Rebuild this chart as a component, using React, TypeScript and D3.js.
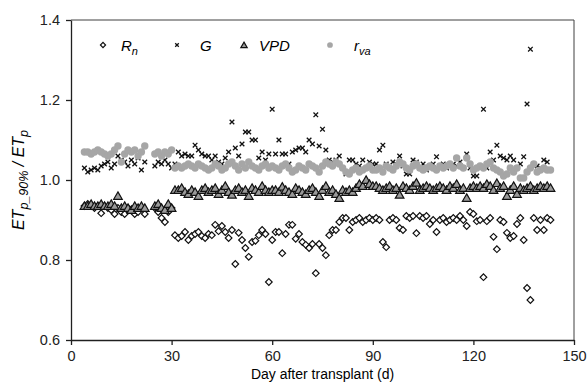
import { useEffect, useRef } from 'react';
import * as d3 from 'd3';

// day after transplant (gap on days 23-24)
const days: number[] = [
  ...d3.range(4, 23),
  ...d3.range(25, 144),
];

const rnValues: number[] = [
  // 4-22
  0.935, 0.94, 0.935, 0.93, 0.935, 0.917, 0.935, 0.93, 0.925, 0.915, 0.93, 0.92, 0.915, 0.93, 0.925, 0.915, 0.92, 0.93, 0.915,
  // 25-30
  0.93, 0.92, 0.905, 0.895, 0.92, 0.93,
  // 31-60
  0.862, 0.855, 0.86, 0.87, 0.85, 0.86, 0.865, 0.87, 0.86, 0.855, 0.865, 0.862, 0.888, 0.872, 0.885, 0.87, 0.855, 0.875, 0.79, 0.868,
  0.85, 0.83, 0.808, 0.845, 0.848, 0.862, 0.875, 0.865, 0.745, 0.85,
  // 61-90
  0.87, 0.87, 0.817, 0.865, 0.888, 0.888, 0.853, 0.865, 0.845, 0.838, 0.83, 0.84, 0.767, 0.84, 0.83, 0.812, 0.862, 0.875, 0.875, 0.895,
  0.905, 0.905, 0.875, 0.895, 0.9, 0.905, 0.895, 0.9, 0.905, 0.9,
  // 91-120
  0.905, 0.9, 0.845, 0.832, 0.9, 0.905, 0.9, 0.88, 0.875, 0.91, 0.905, 0.91, 0.867, 0.91, 0.905, 0.91, 0.89, 0.9, 0.87, 0.9,
  0.905, 0.895, 0.9, 0.905, 0.9, 0.91, 0.9, 0.885, 0.92, 0.915,
  // 121-143
  0.897, 0.9, 0.757, 0.897, 0.905, 0.858, 0.827, 0.9, 0.895, 0.868, 0.855, 0.86, 0.89, 0.905, 0.85, 0.73, 0.7, 0.905, 0.875, 0.9,
  0.875, 0.905, 0.9,
];

const gValues: number[] = [
  1.03, 1.02, 1.025, 1.03, 1.025, 1.035, 1.04, 1.045, 1.03, 1.04, 1.06, 1.05, 1.045, 1.035, 1.05, 1.04, 1.055, 1.025, 1.045,
  1.035, 1.045, 1.04, 1.05, 1.04, 1.03,
  1.04, 1.07, 1.06, 1.065, 1.06, 1.06, 1.087, 1.075, 1.065, 1.06, 1.06, 1.05, 1.06, 1.045, 1.04, 1.055, 1.07, 1.145, 1.08, 1.06,
  1.09, 1.12, 1.12, 1.1, 1.1, 1.055, 1.07, 1.05, 1.065, 1.177,
  1.065, 1.1, 1.065, 1.065, 1.04, 1.07, 1.075, 1.08, 1.08, 1.07, 1.1, 1.09, 1.163, 1.085, 1.127, 1.075, 1.05, 1.045, 1.05, 1.06,
  1.03, 1.015, 1.05, 1.05, 1.04, 1.035, 1.05, 1.03, 1.045, 1.04,
  1.04, 1.075, 1.087, 1.04, 1.03, 1.045, 1.04, 1.06, 1.035, 1.015, 1.015, 1.05, 1.045, 1.03, 1.04, 1.025, 1.035, 1.04, 1.058, 1.035,
  1.04, 1.03, 1.035, 1.04, 1.035, 1.045, 1.03, 1.065, 1.03, 1.01,
  1.01, 1.03, 1.177, 1.03, 1.07, 1.05, 1.087, 1.06, 1.055, 1.05, 1.06, 1.05, 1.03, 1.04, 1.058, 1.19, 1.327, 1.04, 1.035, 1.03,
  1.05, 1.045, 1.025,
];

const vpdValues: number[] = [
  0.935, 0.935, 0.94, 0.935, 0.935, 0.94, 0.935, 0.935, 0.94, 0.935, 0.96, 0.93, 0.935, 0.93, 0.925, 0.935, 0.93, 0.935, 0.93,
  0.935, 0.94, 0.93, 0.925, 0.94, 0.93,
  0.975, 0.975, 0.98, 0.97, 0.965, 0.975, 0.97, 0.96, 0.975, 0.98, 0.97, 0.975, 0.98, 0.965, 0.975, 0.985, 0.97, 0.963, 0.975, 0.98,
  0.97, 0.975, 0.96, 0.98, 0.975, 0.97, 0.985, 0.975, 0.97, 0.975,
  0.975, 0.97, 0.983, 0.975, 0.97, 0.965, 0.98, 0.975, 0.97, 0.965, 0.975, 0.98, 0.97, 0.96, 0.975, 0.985, 0.97, 0.975, 0.965, 0.955,
  0.975, 0.97, 0.975, 0.97, 0.98, 0.99, 0.985, 1.0, 0.99, 0.985,
  0.985, 0.98, 0.975, 0.98, 0.985, 0.975, 0.98, 0.963, 0.985, 0.98, 0.975, 0.985, 0.993, 0.975, 0.98, 0.985, 0.98, 0.975, 0.98, 0.985,
  0.98, 0.975, 0.985, 0.98, 0.99, 0.975, 0.98, 0.955, 0.98, 0.985,
  0.98, 0.985, 0.98, 0.99, 0.985, 0.975, 0.992, 0.98, 0.985, 0.96, 0.975, 0.985, 0.965, 0.98, 0.975, 0.98, 0.985, 0.975, 0.98, 0.985,
  0.98, 0.985, 0.98,
];

const rvaValues: number[] = [
  1.07, 1.07, 1.065, 1.07, 1.075, 1.07, 1.065, 1.06, 1.065, 1.075, 1.085, 1.045, 1.065, 1.075, 1.07, 1.075, 1.06, 1.07, 1.085,
  1.065, 1.07, 1.06, 1.07, 1.065, 1.075,
  1.03, 1.035, 1.03, 1.035, 1.04, 1.035, 1.03, 1.04, 1.035, 1.03, 1.025, 1.03, 1.04, 1.035, 1.025, 1.03, 1.04, 1.045, 1.035, 1.025,
  1.04, 1.03, 1.045, 1.035, 1.03, 1.025, 1.035, 1.04, 1.03, 1.035,
  1.03, 1.025, 1.035, 1.04, 1.03, 1.02, 1.025, 1.035, 1.03, 1.025, 1.04, 1.035, 1.03, 1.02, 1.035, 1.045, 1.04, 1.035, 1.045, 1.04,
  1.03, 1.02, 1.015, 1.025, 1.03, 1.02, 1.025, 1.03, 1.035, 1.025,
  1.025, 1.03, 1.02, 1.035, 1.03, 1.025, 1.035, 1.045, 1.04, 1.03, 1.025, 1.035, 1.04, 1.03, 1.025, 1.03, 1.035, 1.03, 1.025, 1.035,
  1.03, 1.035, 1.04, 1.03, 1.055, 1.035, 1.03, 1.055, 1.04, 1.025,
  1.03, 1.035, 1.03, 1.04, 1.045, 1.03, 1.025, 1.02, 1.01, 1.015, 1.03, 1.02, 1.03, 1.005, 1.005, 1.02, 1.03, 1.04, 1.02, 1.025,
  1.03, 1.025, 1.025,
];

const xTicks = [0, 30, 60, 90, 120, 150];
const yTicks = [0.6, 0.8, 1.0, 1.2, 1.4];

const W = 588;
const H = 383;
const FONT = '"Liberation Sans", Arial, sans-serif';

export default function App() {
  const svgRef = useRef<SVGSVGElement>(null);

  useEffect(() => {
    const svg = d3.select(svgRef.current);
    svg.selectAll('*').remove();

    const margin = { top: 20, right: 14, bottom: 43, left: 71 };
    const x = d3.scaleLinear().domain([0, 150]).range([margin.left, W - margin.right]);
    const y = d3.scaleLinear().domain([0.6, 1.4]).range([H - margin.bottom, margin.top]);

    // frame (top + right)
    svg.append('path')
      .attr('d', `M${x(0)},${y(1.4)}H${x(150)}V${y(0.6)}`)
      .attr('fill', 'none')
      .attr('stroke', '#404040')
      .attr('stroke-width', 1);

    const xAxis = svg.append('g')
      .attr('transform', `translate(0,${y(0.6)})`)
      .call(d3.axisBottom(x).tickValues(xTicks).tickSize(5).tickSizeOuter(0).tickPadding(6));
    const yAxis = svg.append('g')
      .attr('transform', `translate(${x(0)},0)`)
      .call(d3.axisLeft(y).tickValues(yTicks).tickFormat(d3.format('.1f')).tickSize(5).tickSizeOuter(0).tickPadding(6));

    [xAxis, yAxis].forEach(ax => {
      ax.select('.domain').attr('stroke', '#202020').attr('stroke-width', 1.3);
      ax.selectAll('.tick line').attr('stroke', '#202020').attr('stroke-width', 1.3);
      ax.selectAll('.tick text').attr('fill', '#222').style('font-family', FONT).style('font-size', '14.5px');
    });

    // axis titles
    svg.append('text')
      .attr('x', (x(0) + x(150)) / 2)
      .attr('y', 379)
      .attr('text-anchor', 'middle')
      .style('font-family', FONT)
      .style('font-size', '14px')
      .text('Day after transplant (d)');

    const yt = svg.append('text')
      .attr('transform', `translate(24,${(y(0.6) + y(1.4)) / 2}) rotate(-90)`)
      .attr('text-anchor', 'middle')
      .style('font-family', FONT)
      .style('font-size', '16px')
      .style('font-style', 'italic');
    yt.append('tspan').text('ET');
    yt.append('tspan').attr('dy', 4).style('font-size', '12.5px').text('p_90%');
    yt.append('tspan').attr('dy', -4).text(' / ET');
    yt.append('tspan').attr('dy', 4).style('font-size', '12.5px').text('p');

    const diamond = (s: number) => d3.symbol().type(d3.symbolSquare).size(s)();
    const tri = (s: number) => d3.symbol().type(d3.symbolTriangle).size(s)();
    const cross = (h: number) => `M${-h},${-h}L${h},${h}M${-h},${h}L${h},${-h}`;

    const mkRn = (k: number) => (g: any) => g.append('path').attr('d', diamond(22 * k)).attr('transform', 'rotate(45)')
      .attr('fill', '#fff').attr('stroke', '#111').attr('stroke-width', 1.2);
    const mkG = (k: number) => (g: any) => g.append('path').attr('d', cross(2.3 * Math.sqrt(k)))
      .attr('fill', 'none').attr('stroke', '#111').attr('stroke-width', 1.3);
    const mkVpd = (k: number) => (g: any) => g.append('path').attr('d', tri(32 * k)).attr('transform', 'translate(0,0.8)')
      .attr('fill', '#9a9a9a').attr('stroke', '#111').attr('stroke-width', 1.2);
    const mkRva = (k: number) => (g: any) => g.append('circle').attr('r', 3.7 * Math.sqrt(k)).attr('fill', '#a6a6a6');

    const series = [
      { values: rnValues, draw: mkRn(1) },
      { values: gValues, draw: mkG(1) },
      { values: vpdValues, draw: mkVpd(1) },
      { values: rvaValues, draw: mkRva(1) },
    ];

    series.forEach(s => {
      const layer = svg.append('g');
      days.forEach((d, i) => {
        const v = s.values[i];
        if (v == null) return;
        const g = layer.append('g').attr('transform', `translate(${x(d)},${y(v)})`);
        s.draw(g);
      });
    });

    // legend
    const legend = [
      { sx: 103, tx: 121, main: 'R', sub: 'n', draw: mkRn(0.6) },
      { sx: 177, tx: 200, main: 'G', sub: '', draw: mkG(0.6) },
      { sx: 244, tx: 259, main: 'VPD', sub: '', draw: mkVpd(0.55) },
      { sx: 330, tx: 354, main: 'r', sub: 'va', draw: mkRva(0.6) },
    ];
    const ly = 45;
    legend.forEach(l => {
      const g = svg.append('g').attr('transform', `translate(${l.sx},${ly})`);
      l.draw(g);
      const t = svg.append('text')
        .attr('x', l.tx)
        .attr('y', ly + 5.5)
        .style('font-family', FONT)
        .style('font-size', '15px')
        .style('font-style', 'italic');
      t.append('tspan').text(l.main);
      if (l.sub) t.append('tspan').attr('dy', 4).style('font-size', '11px').text(l.sub);
    });
  }, []);

  return (
    <svg
      ref={svgRef}
      width={W}
      height={H}
      style={{ position: 'absolute', left: 0, top: 0, background: '#fff' }}
    />
  );
}
